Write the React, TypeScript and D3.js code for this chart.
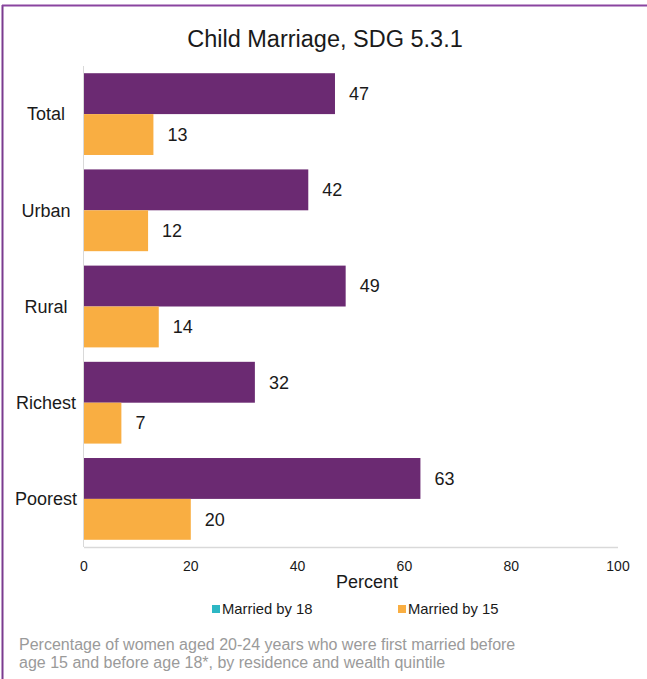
import React from "react";
import * as d3 from "d3";

const categories = ["Total", "Urban", "Rural", "Richest", "Poorest"];
const marriedBy18 = [47, 42, 49, 32, 63];
const marriedBy15 = [13, 12, 14, 7, 20];
const xTicks = [0, 20, 40, 60, 80, 100];
const seriesNames = ["Married by 18", "Married by 15"];
const title = "Child Marriage, SDG 5.3.1";
const axisTitle = "Percent";
const captionLines = [
  "Percentage of women aged 20-24 years who were first married before",
  "age 15 and before age 18*, by residence and wealth quintile",
];

const W = 647;
const H = 679;
const PURPLE = "#6B2A72";
const ORANGE = "#F9AE42";
const TEAL = "#2DB7C4";
const FONT = "'Liberation Sans', Arial, sans-serif";

export default function App() {
  const x = d3.scaleLinear().domain([0, 100]).range([84, 618]);
  const y = d3
    .scaleBand<string>()
    .domain(categories)
    .range([66, 547])
    .paddingInner(0.15)
    .paddingOuter(0.075);
  const sub = d3
    .scaleBand<string>()
    .domain(seriesNames)
    .range([0, y.bandwidth()]);
  const series = [
    { name: seriesNames[0], values: marriedBy18, color: PURPLE },
    { name: seriesNames[1], values: marriedBy15, color: ORANGE },
  ];
  const legend = [
    { name: seriesNames[0], color: TEAL, x: 212 },
    { name: seriesNames[1], color: ORANGE, x: 398 },
  ];

  return (
    <svg
      width={W}
      height={H}
      style={{ position: "absolute", left: 0, top: 0, background: "#fff" }}
      fontFamily={FONT}
    >
      <rect x={0} y={0} width={W} height={H} fill="#fff" />
      {/* border */}
      <line x1={2.5} y1={5} x2={2.5} y2={H} stroke="#7B3B8F" strokeWidth={2} />
      <line x1={2} y1={5.5} x2={W} y2={5.5} stroke="#8A45A0" strokeWidth={2} />

      <text x={325} y={47} textAnchor="middle" fontSize={23.5} fill="#1a1a1a">
        {title}
      </text>

      {/* baseline gridline */}
      <line x1={x(0)} x2={x(100)} y1={547.5} y2={547.5} stroke="#d9d9d9" strokeWidth={1.5} />

      {categories.map((c, i) => (
        <g key={c}>
          {series.map((s) => {
            const y0 = (y(c) as number) + (sub(s.name) as number);
            const v = s.values[i];
            return (
              <g key={s.name}>
                <rect
                  x={x(0)}
                  y={y0}
                  width={x(v) - x(0)}
                  height={sub.bandwidth()}
                  fill={s.color}
                />
                <text
                  x={x(v) + 14}
                  y={y0 + sub.bandwidth() / 2}
                  dy="0.35em"
                  fontSize={18}
                  fill="#1a1a1a"
                >
                  {v}
                </text>
              </g>
            );
          })}
          <text
            x={46}
            y={(y(c) as number) + y.bandwidth() / 2}
            dy="0.35em"
            textAnchor="middle"
            fontSize={18}
            fill="#1a1a1a"
          >
            {c}
          </text>
        </g>
      ))}

      {/* y axis line */}
      <line x1={x(0) - 0.5} x2={x(0) - 0.5} y1={66} y2={547} stroke="#d9d9d9" strokeWidth={1} />

      {xTicks.map((t) => (
        <text key={t} x={x(t)} y={571} textAnchor="middle" fontSize={14} fill="#1a1a1a">
          {t}
        </text>
      ))}
      <text x={367} y={588} textAnchor="middle" fontSize={18} fill="#1a1a1a">
        {axisTitle}
      </text>

      {legend.map((l) => (
        <g key={l.name}>
          <rect x={l.x} y={605} width={8} height={8} fill={l.color} />
          <text x={l.x + 10} y={614} fontSize={14.8} fill="#1a1a1a">
            {l.name}
          </text>
        </g>
      ))}

      {captionLines.map((line, i) => (
        <text key={i} x={19} y={650 + i * 18} fontSize={16} fill="#9a9a9a">
          {line}
        </text>
      ))}
    </svg>
  );
}
